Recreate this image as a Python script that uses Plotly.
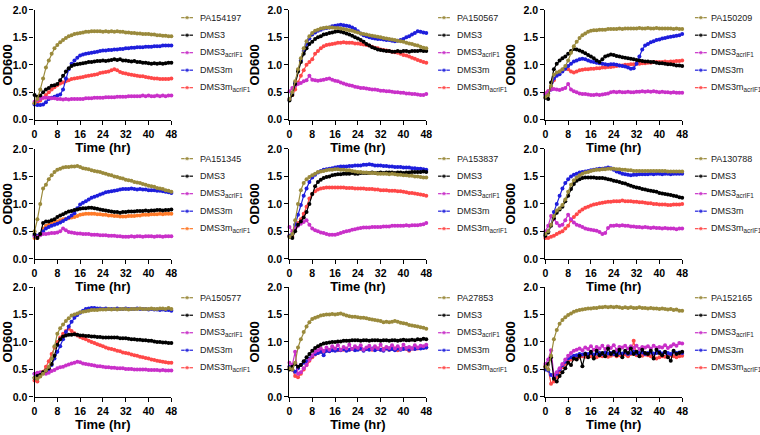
import plotly.graph_objects as go

HOURS = list(range(49))
X_TICKS = [0, 8, 16, 24, 32, 40, 48]
Y_TICKS = [0.0, 0.5, 1.0, 1.5, 2.0]
HOSTS = ["PA154197", "PA150567", "PA150209", "PA151345", "PA153837",
         "PA130788", "PA150577", "PA27853", "PA152165"]
PHAGES = ["DMS3", "DMS3<sub>acrIF1</sub>", "DMS3m", "DMS3m<sub>acrIF1</sub>"]

# ---- Panel 1: PA154197
p1_host = [0.30,0.38,0.55,0.75,0.95,1.08,1.20,1.30,1.36,1.41,1.45,1.49,1.52,1.54,1.56,1.57,1.58,1.59,1.60,1.60,1.61,1.61,1.61,1.61,1.60,1.61,1.60,1.61,1.60,1.61,1.60,1.60,1.59,1.59,1.58,1.58,1.57,1.57,1.56,1.56,1.56,1.55,1.55,1.54,1.54,1.53,1.53,1.52,1.52]
p1_dms3 = [0.45,0.42,0.44,0.50,0.55,0.58,0.62,0.63,0.65,0.72,0.80,0.88,0.94,0.98,1.00,1.01,1.02,1.03,1.04,1.05,1.05,1.06,1.07,1.07,1.08,1.07,1.08,1.09,1.10,1.09,1.10,1.08,1.08,1.07,1.06,1.07,1.05,1.05,1.04,1.04,1.03,1.02,1.03,1.02,1.03,1.02,1.03,1.04,1.04]
p1_acr = [0.33,0.36,0.38,0.40,0.40,0.40,0.39,0.39,0.38,0.38,0.37,0.38,0.37,0.38,0.38,0.38,0.38,0.38,0.39,0.39,0.39,0.40,0.40,0.40,0.40,0.41,0.41,0.41,0.41,0.42,0.42,0.42,0.42,0.43,0.43,0.43,0.43,0.43,0.44,0.43,0.44,0.43,0.43,0.44,0.43,0.44,0.43,0.44,0.44]
p1_dms3m = [0.28,0.27,0.27,0.28,0.32,0.38,0.40,0.42,0.44,0.46,0.55,0.75,0.92,1.02,1.08,1.13,1.17,1.19,1.20,1.21,1.22,1.23,1.24,1.25,1.26,1.26,1.27,1.27,1.28,1.28,1.29,1.29,1.30,1.30,1.31,1.31,1.32,1.32,1.32,1.33,1.33,1.33,1.34,1.34,1.34,1.35,1.35,1.35,1.35]
p1_dms3m_acr = [0.30,0.32,0.35,0.40,0.45,0.50,0.55,0.59,0.63,0.66,0.68,0.70,0.72,0.74,0.75,0.76,0.77,0.78,0.79,0.80,0.81,0.82,0.83,0.85,0.86,0.87,0.88,0.90,0.92,0.90,0.87,0.85,0.84,0.83,0.82,0.81,0.80,0.79,0.79,0.78,0.77,0.76,0.75,0.75,0.74,0.74,0.74,0.74,0.75]

# ---- Panel 2: PA150567
p2_host = [0.38,0.50,0.70,0.92,1.12,1.30,1.43,1.52,1.58,1.62,1.64,1.66,1.67,1.68,1.68,1.68,1.67,1.67,1.66,1.65,1.64,1.63,1.62,1.60,1.59,1.57,1.56,1.55,1.54,1.53,1.52,1.51,1.50,1.49,1.48,1.47,1.46,1.45,1.44,1.43,1.42,1.40,1.39,1.38,1.36,1.35,1.33,1.31,1.30]
p2_dms3 = [0.35,0.45,0.65,0.88,1.05,1.20,1.30,1.38,1.42,1.47,1.50,1.52,1.55,1.56,1.58,1.59,1.60,1.61,1.60,1.59,1.57,1.55,1.53,1.50,1.48,1.45,1.42,1.38,1.35,1.32,1.30,1.28,1.27,1.26,1.25,1.25,1.24,1.24,1.25,1.24,1.25,1.25,1.24,1.25,1.25,1.25,1.26,1.25,1.25]
p2_acr = [0.52,0.58,0.62,0.65,0.67,0.70,0.72,0.80,0.73,0.72,0.71,0.72,0.73,0.74,0.75,0.73,0.71,0.70,0.68,0.66,0.64,0.63,0.62,0.60,0.59,0.58,0.58,0.57,0.56,0.55,0.55,0.54,0.53,0.53,0.52,0.52,0.51,0.50,0.50,0.49,0.49,0.48,0.48,0.47,0.47,0.46,0.45,0.45,0.47]
p2_dms3m = [0.38,0.48,0.68,0.90,1.08,1.25,1.38,1.48,1.55,1.59,1.62,1.64,1.66,1.67,1.68,1.70,1.71,1.72,1.73,1.72,1.71,1.70,1.68,1.65,1.61,1.57,1.54,1.52,1.50,1.49,1.48,1.47,1.47,1.46,1.45,1.45,1.44,1.43,1.44,1.45,1.47,1.50,1.52,1.55,1.58,1.61,1.60,1.59,1.58]
p2_dms3m_acr = [0.38,0.45,0.55,0.68,0.80,0.90,1.00,1.05,1.10,1.20,1.25,1.30,1.34,1.36,1.37,1.38,1.39,1.40,1.40,1.41,1.40,1.40,1.40,1.39,1.39,1.38,1.37,1.36,1.35,1.33,1.31,1.30,1.28,1.27,1.26,1.25,1.24,1.23,1.22,1.20,1.18,1.17,1.15,1.13,1.11,1.09,1.07,1.05,1.04]

# ---- Panel 3: PA150209
p3_host = [0.42,0.45,0.62,0.82,0.86,0.88,0.92,0.98,1.08,1.22,1.34,1.42,1.49,1.54,1.57,1.60,1.62,1.63,1.63,1.64,1.64,1.64,1.65,1.65,1.65,1.65,1.66,1.65,1.66,1.66,1.66,1.66,1.66,1.67,1.66,1.66,1.67,1.66,1.66,1.67,1.66,1.66,1.66,1.66,1.66,1.65,1.66,1.65,1.65]
p3_dms3 = [0.40,0.38,0.68,0.92,1.02,1.08,1.12,1.15,1.20,1.25,1.29,1.28,1.26,1.24,1.21,1.18,1.15,1.12,1.08,1.05,1.10,1.15,1.17,1.19,1.18,1.16,1.15,1.14,1.13,1.12,1.11,1.10,1.09,1.08,1.07,1.06,1.06,1.05,1.05,1.04,1.03,1.03,1.02,1.01,1.01,1.00,0.99,0.99,0.98]
p3_acr = [0.48,0.52,0.55,0.56,0.55,0.54,0.56,0.58,0.65,0.55,0.52,0.50,0.48,0.47,0.47,0.46,0.45,0.45,0.46,0.45,0.46,0.47,0.48,0.50,0.51,0.50,0.51,0.50,0.50,0.51,0.50,0.50,0.51,0.51,0.52,0.51,0.52,0.51,0.52,0.51,0.50,0.51,0.50,0.50,0.49,0.50,0.49,0.49,0.49]
p3_dms3m = [0.45,0.48,0.55,0.75,0.80,0.83,0.88,0.93,0.98,1.02,1.06,1.08,1.10,1.11,1.10,1.08,1.06,1.05,1.04,1.03,1.02,1.01,1.00,1.01,1.01,1.00,0.99,0.98,0.97,0.95,0.93,0.94,1.02,1.15,1.28,1.35,1.38,1.41,1.43,1.45,1.46,1.48,1.49,1.50,1.51,1.52,1.53,1.54,1.56]
p3_dms3m_acr = [0.48,0.52,0.60,0.72,0.82,0.88,0.91,0.93,0.92,0.88,0.86,0.88,0.90,0.91,0.92,0.92,0.93,0.93,0.94,0.94,0.95,0.95,0.96,0.96,0.97,0.98,0.99,0.99,1.00,1.00,1.01,1.01,1.02,1.02,1.03,1.03,1.04,1.04,1.05,1.05,1.05,1.05,1.06,1.05,1.06,1.06,1.07,1.07,1.08]

# ---- Panel 4: PA151345
p4_host = [0.50,0.72,1.00,1.28,1.35,1.45,1.52,1.58,1.62,1.64,1.66,1.67,1.67,1.68,1.68,1.69,1.67,1.65,1.64,1.63,1.61,1.60,1.59,1.58,1.56,1.55,1.53,1.52,1.50,1.49,1.47,1.46,1.44,1.43,1.42,1.40,1.39,1.38,1.36,1.35,1.33,1.32,1.31,1.29,1.28,1.27,1.25,1.24,1.22]
p4_dms3 = [0.45,0.38,0.45,0.65,0.68,0.68,0.70,0.72,0.76,0.79,0.81,0.84,0.86,0.87,0.89,0.90,0.91,0.92,0.92,0.93,0.93,0.92,0.91,0.90,0.89,0.88,0.87,0.86,0.85,0.85,0.84,0.85,0.85,0.86,0.86,0.86,0.87,0.87,0.87,0.88,0.87,0.88,0.88,0.89,0.89,0.88,0.89,0.89,0.90]
p4_acr = [0.42,0.40,0.43,0.45,0.45,0.46,0.47,0.47,0.48,0.50,0.55,0.52,0.49,0.48,0.47,0.46,0.46,0.45,0.45,0.45,0.44,0.44,0.44,0.43,0.43,0.43,0.42,0.42,0.42,0.41,0.41,0.40,0.40,0.40,0.41,0.40,0.41,0.41,0.40,0.41,0.41,0.41,0.40,0.41,0.41,0.40,0.41,0.41,0.41]
p4_dms3m = [0.42,0.42,0.45,0.50,0.55,0.58,0.60,0.62,0.64,0.66,0.69,0.72,0.75,0.79,0.83,0.92,0.99,1.02,1.05,1.08,1.11,1.13,1.15,1.17,1.19,1.21,1.22,1.23,1.24,1.25,1.26,1.27,1.27,1.27,1.28,1.27,1.26,1.27,1.26,1.26,1.25,1.25,1.25,1.24,1.24,1.23,1.22,1.21,1.20]
p4_dms3m_acr = [0.38,0.38,0.45,0.55,0.60,0.62,0.64,0.66,0.68,0.70,0.72,0.73,0.74,0.75,0.76,0.78,0.80,0.81,0.82,0.82,0.82,0.82,0.81,0.81,0.80,0.80,0.79,0.79,0.78,0.78,0.77,0.77,0.77,0.78,0.78,0.78,0.79,0.79,0.80,0.80,0.80,0.81,0.81,0.81,0.82,0.81,0.82,0.82,0.82]

# ---- Panel 5: PA153837
p5_host = [0.40,0.45,0.70,1.00,1.25,1.38,1.45,1.49,1.52,1.55,1.58,1.59,1.60,1.61,1.62,1.62,1.63,1.63,1.62,1.62,1.61,1.61,1.60,1.59,1.58,1.58,1.57,1.57,1.56,1.56,1.56,1.55,1.55,1.55,1.55,1.54,1.55,1.54,1.53,1.53,1.52,1.52,1.51,1.51,1.50,1.50,1.49,1.48,1.48]
p5_dms3 = [0.40,0.38,0.50,0.62,0.68,0.75,0.85,1.00,1.18,1.32,1.40,1.44,1.47,1.49,1.50,1.52,1.53,1.54,1.54,1.55,1.55,1.55,1.56,1.55,1.55,1.56,1.56,1.56,1.56,1.57,1.56,1.56,1.57,1.56,1.57,1.57,1.57,1.56,1.57,1.57,1.56,1.57,1.57,1.58,1.58,1.58,1.58,1.59,1.58]
p5_acr = [0.58,0.50,0.55,0.60,0.64,0.67,0.70,0.62,0.55,0.52,0.50,0.48,0.47,0.45,0.44,0.44,0.44,0.45,0.47,0.49,0.50,0.51,0.53,0.54,0.55,0.56,0.57,0.57,0.57,0.58,0.58,0.58,0.58,0.59,0.59,0.59,0.60,0.60,0.60,0.60,0.60,0.61,0.60,0.61,0.61,0.61,0.62,0.63,0.65]
p5_dms3m = [0.42,0.45,0.62,0.80,0.98,1.15,1.28,1.40,1.48,1.53,1.57,1.60,1.62,1.63,1.64,1.65,1.66,1.67,1.68,1.68,1.68,1.69,1.69,1.70,1.70,1.70,1.71,1.71,1.72,1.71,1.70,1.70,1.70,1.69,1.69,1.68,1.68,1.67,1.67,1.67,1.66,1.66,1.66,1.65,1.65,1.64,1.64,1.63,1.62]
p5_dms3m_acr = [0.42,0.40,0.55,0.65,0.72,0.82,0.95,1.10,1.18,1.23,1.26,1.28,1.29,1.30,1.30,1.30,1.30,1.30,1.30,1.30,1.29,1.29,1.29,1.28,1.28,1.28,1.28,1.27,1.27,1.27,1.26,1.26,1.25,1.25,1.25,1.24,1.24,1.24,1.23,1.23,1.22,1.21,1.20,1.20,1.19,1.18,1.17,1.16,1.15]

# ---- Panel 6: PA130788
p6_host = [0.45,0.50,0.62,0.78,0.88,0.92,0.98,1.08,1.22,1.35,1.43,1.48,1.52,1.55,1.57,1.58,1.60,1.61,1.62,1.62,1.63,1.63,1.64,1.64,1.64,1.63,1.63,1.62,1.62,1.61,1.61,1.60,1.60,1.60,1.60,1.60,1.60,1.60,1.60,1.60,1.60,1.60,1.60,1.59,1.59,1.59,1.59,1.59,1.59]
p6_dms3 = [0.42,0.48,0.60,0.74,0.84,0.90,0.95,1.05,1.15,1.27,1.36,1.42,1.45,1.47,1.48,1.48,1.48,1.48,1.47,1.47,1.47,1.46,1.45,1.44,1.42,1.41,1.40,1.38,1.37,1.35,1.33,1.31,1.30,1.29,1.27,1.26,1.25,1.24,1.23,1.22,1.20,1.19,1.18,1.17,1.16,1.15,1.14,1.12,1.11]
p6_acr = [0.50,0.60,0.78,0.72,0.65,0.60,0.62,0.70,0.80,0.72,0.66,0.62,0.60,0.58,0.55,0.54,0.53,0.52,0.51,0.49,0.45,0.47,0.56,0.60,0.60,0.61,0.60,0.61,0.60,0.60,0.59,0.59,0.58,0.58,0.57,0.58,0.57,0.56,0.57,0.56,0.56,0.55,0.56,0.55,0.55,0.55,0.54,0.55,0.55]
p6_dms3m = [0.45,0.50,0.62,0.85,1.00,1.15,1.28,1.38,1.45,1.50,1.53,1.55,1.57,1.58,1.59,1.60,1.61,1.62,1.63,1.64,1.64,1.65,1.66,1.65,1.62,1.59,1.57,1.55,1.54,1.53,1.52,1.53,1.53,1.54,1.54,1.54,1.54,1.55,1.54,1.55,1.55,1.54,1.55,1.55,1.54,1.55,1.55,1.55,1.55]
p6_dms3m_acr = [0.38,0.38,0.40,0.42,0.45,0.48,0.50,0.55,0.60,0.70,0.76,0.81,0.86,0.90,0.93,0.95,0.97,0.99,1.00,1.01,1.02,1.03,1.04,1.04,1.05,1.05,1.05,1.06,1.05,1.05,1.05,1.04,1.04,1.03,1.03,1.02,1.01,1.01,1.00,1.00,0.99,0.99,0.99,0.98,0.98,0.99,0.99,0.99,1.00]

# ---- Panel 7: PA150577
p7_host = [0.35,0.33,0.37,0.42,0.48,0.55,0.70,0.92,1.15,1.25,1.32,1.38,1.43,1.48,1.50,1.52,1.54,1.55,1.56,1.57,1.58,1.58,1.58,1.59,1.59,1.59,1.60,1.59,1.60,1.59,1.60,1.60,1.60,1.59,1.60,1.60,1.60,1.61,1.60,1.60,1.60,1.61,1.60,1.60,1.61,1.61,1.60,1.62,1.60]
p7_dms3 = [0.35,0.38,0.40,0.45,0.48,0.52,0.60,0.75,0.95,1.05,1.10,1.12,1.13,1.13,1.14,1.13,1.12,1.12,1.11,1.11,1.10,1.10,1.09,1.09,1.08,1.08,1.08,1.08,1.08,1.08,1.07,1.07,1.07,1.06,1.05,1.05,1.04,1.04,1.03,1.03,1.02,1.02,1.01,1.00,1.00,0.99,0.99,0.98,0.98]
p7_acr = [0.42,0.44,0.45,0.44,0.42,0.44,0.47,0.49,0.52,0.54,0.55,0.57,0.59,0.61,0.62,0.64,0.63,0.61,0.60,0.59,0.58,0.57,0.56,0.56,0.55,0.54,0.54,0.53,0.53,0.52,0.52,0.52,0.51,0.51,0.51,0.50,0.50,0.50,0.50,0.50,0.49,0.49,0.49,0.49,0.48,0.49,0.48,0.48,0.48]
p7_dms3m = [0.42,0.42,0.42,0.43,0.45,0.50,0.58,0.70,0.82,0.92,1.05,1.18,1.28,1.37,1.44,1.49,1.53,1.57,1.60,1.61,1.62,1.62,1.61,1.61,1.60,1.61,1.60,1.60,1.60,1.61,1.60,1.60,1.61,1.60,1.60,1.60,1.61,1.60,1.60,1.60,1.59,1.60,1.59,1.59,1.58,1.59,1.58,1.58,1.57]
p7_dms3m_acr = [0.30,0.28,0.38,0.46,0.55,0.65,0.78,0.90,1.00,1.08,1.15,1.20,1.24,1.20,1.16,1.12,1.09,1.07,1.05,1.02,1.00,0.98,0.96,0.94,0.92,0.90,0.88,0.87,0.86,0.84,0.83,0.81,0.80,0.79,0.77,0.76,0.75,0.73,0.72,0.71,0.70,0.68,0.67,0.66,0.65,0.64,0.63,0.62,0.62]

# ---- Panel 8: PA27853
p8_host = [0.52,0.50,0.62,0.90,1.05,1.18,1.28,1.36,1.42,1.44,1.46,1.48,1.49,1.50,1.50,1.51,1.50,1.51,1.52,1.50,1.48,1.47,1.46,1.46,1.45,1.44,1.44,1.43,1.42,1.41,1.40,1.39,1.38,1.36,1.37,1.36,1.37,1.38,1.37,1.35,1.34,1.33,1.31,1.30,1.29,1.28,1.27,1.26,1.24]
p8_dms3 = [0.50,0.55,0.60,0.55,0.58,0.65,0.72,0.78,0.84,0.89,0.92,0.95,0.97,0.98,0.99,1.00,1.00,1.01,1.01,1.02,1.02,1.02,1.03,1.03,1.03,1.02,1.03,1.03,1.02,1.03,1.03,1.03,1.02,1.03,1.03,1.02,1.03,1.03,1.02,1.03,1.04,1.03,1.03,1.04,1.03,1.05,1.04,1.06,1.05]
p8_acr = [0.62,0.58,0.82,0.42,0.45,0.52,0.58,0.68,0.76,0.82,0.85,0.88,0.84,0.90,0.86,0.92,0.88,0.94,0.86,0.91,0.88,0.95,0.87,0.92,0.89,0.94,0.86,0.90,0.93,0.87,0.92,0.88,0.95,0.86,0.91,0.89,0.94,0.88,0.92,0.87,0.95,0.89,0.91,0.88,0.94,0.90,0.93,0.92,0.95]
p8_dms3m = [0.55,0.50,0.46,0.52,0.58,0.62,0.65,0.70,0.75,0.78,0.80,0.82,0.76,0.84,0.83,0.85,0.84,0.86,0.85,0.87,0.84,0.86,0.87,0.85,0.86,0.88,0.84,0.87,0.86,0.88,0.85,0.87,0.86,0.84,0.88,0.86,0.87,0.85,0.88,0.86,0.87,0.88,0.86,0.88,0.87,0.89,0.88,0.89,0.90]
p8_dms3m_acr = [0.55,0.50,0.38,0.36,0.42,0.50,0.58,0.66,0.72,0.77,0.80,0.82,0.83,0.84,0.85,0.85,0.86,0.85,0.86,0.86,0.87,0.86,0.87,0.86,0.87,0.87,0.86,0.87,0.88,0.86,0.87,0.88,0.86,0.87,0.88,0.86,0.87,0.88,0.85,0.87,0.88,0.87,0.84,0.88,0.87,0.88,0.89,0.90,0.90]

# ---- Panel 9: PA152165
p9_host = [0.55,0.50,0.75,1.05,1.22,1.33,1.40,1.45,1.49,1.52,1.55,1.57,1.58,1.59,1.60,1.61,1.61,1.62,1.62,1.63,1.63,1.64,1.63,1.64,1.63,1.64,1.63,1.62,1.63,1.62,1.63,1.62,1.62,1.63,1.62,1.62,1.61,1.62,1.61,1.61,1.60,1.61,1.60,1.59,1.60,1.58,1.59,1.57,1.57]
p9_dms3 = [0.55,0.60,0.72,0.33,0.28,0.38,0.45,0.52,0.62,0.58,0.70,0.68,0.75,0.56,0.78,0.72,0.82,0.70,0.84,0.76,0.80,0.74,0.88,0.78,0.82,0.76,0.86,0.72,0.84,0.80,0.88,0.78,0.82,0.74,0.86,0.80,0.78,0.84,0.70,0.86,0.80,0.76,0.82,0.72,0.66,0.84,0.78,0.80,0.82]
p9_acr = [0.60,0.68,0.85,0.40,0.45,0.52,0.60,0.68,0.75,0.80,0.84,0.86,0.88,0.85,0.90,0.87,0.92,0.86,0.91,0.88,0.93,0.87,0.92,0.89,0.94,0.86,0.91,0.90,0.93,0.88,0.92,0.89,0.93,0.87,0.91,0.90,0.92,0.88,0.93,0.89,0.91,0.90,0.94,0.89,0.92,0.96,0.93,0.98,0.97]
p9_dms3m = [0.50,0.48,0.40,0.35,0.42,0.50,0.58,0.64,0.70,0.72,0.75,0.76,0.78,0.77,0.79,0.78,0.80,0.77,0.79,0.80,0.78,0.81,0.79,0.80,0.78,0.81,0.80,0.79,0.81,0.78,0.80,0.82,0.79,0.80,0.81,0.78,0.80,0.81,0.79,0.80,0.82,0.79,0.81,0.80,0.78,0.82,0.80,0.81,0.80]
p9_dms3m_acr = [0.55,0.50,0.24,0.28,0.36,0.46,0.54,0.60,0.65,0.68,0.70,0.71,0.72,0.74,0.73,0.75,0.74,0.76,0.72,0.75,0.74,0.76,0.73,0.75,0.77,0.74,0.76,0.75,0.77,0.74,0.78,1.02,0.76,0.78,0.75,0.77,0.76,0.74,0.72,0.70,0.72,0.74,0.73,0.75,0.76,0.74,0.72,0.74,0.75]

PANELS = [
    [p1_host, p1_dms3, p1_acr, p1_dms3m, p1_dms3m_acr],
    [p2_host, p2_dms3, p2_acr, p2_dms3m, p2_dms3m_acr],
    [p3_host, p3_dms3, p3_acr, p3_dms3m, p3_dms3m_acr],
    [p4_host, p4_dms3, p4_acr, p4_dms3m, p4_dms3m_acr],
    [p5_host, p5_dms3, p5_acr, p5_dms3m, p5_dms3m_acr],
    [p6_host, p6_dms3, p6_acr, p6_dms3m, p6_dms3m_acr],
    [p7_host, p7_dms3, p7_acr, p7_dms3m, p7_dms3m_acr],
    [p8_host, p8_dms3, p8_acr, p8_dms3m, p8_dms3m_acr],
    [p9_host, p9_dms3, p9_acr, p9_dms3m, p9_dms3m_acr],
]

COLORS = ["#9A8A3C", "#000000", "#C930C9", "#1E1EDC", "#FF4848"]
ORANGE = "#FF7A28"

W, H = 760, 435
COL_PX = [(29, 168), (288, 427), (548, 687)]
ROW_PX = [(4, 117), (147, 260), (289, 402)]
LEG_X = [178, 439, 700]
LEG_TX = [195, 456, 714]
LEG_Y0 = [12, 157, 300]
LEG_DY = 18

FONT = "Liberation Sans, Arial, sans-serif"

fig = go.Figure()
layout = dict(
    width=W, height=H, margin=dict(l=0, r=0, t=0, b=0),
    paper_bgcolor="white", plot_bgcolor="rgba(0,0,0,0)", showlegend=False,
    font=dict(family=FONT, color="#000"),
    annotations=[],
)

for i in range(9):
    r, c = divmod(i, 3)
    n = i + 1
    sfx = "" if n == 1 else str(n)
    x0, x1 = COL_PX[c]
    yt, yb = ROW_PX[r]
    axis_common = dict(
        showgrid=False, zeroline=False, showline=True, linecolor="#000",
        linewidth=1.4, ticks="outside", ticklen=4, tickwidth=1.4, tickcolor="#000",
        tickfont=dict(family=FONT, size=10.5, color="#000", weight="bold"),
        fixedrange=True,
    )
    layout["xaxis" + sfx] = dict(
        axis_common, domain=[x0 / W, x1 / W], anchor="y" + sfx, range=[0, 48],
        tickvals=X_TICKS,
        title=dict(text="Time (hr)", font=dict(family=FONT, size=13, weight="bold"), standoff=3),
    )
    layout["yaxis" + sfx] = dict(
        axis_common, domain=[(H - yb) / H, (H - yt) / H], anchor="x" + sfx, range=[0, 2],
        tickvals=Y_TICKS, tickformat=".1f",
        title=dict(text="OD600", font=dict(family=FONT, size=13, weight="bold"), standoff=4),
    )
    series = PANELS[i]
    cols = list(COLORS)
    if n == 4:
        cols[4] = ORANGE
    # later series drawn first so the host strain sits on top
    for k in reversed(range(5)):
        vals = series[k]
        fig.add_trace(go.Scatter(
            x=HOURS[:len(vals)], y=vals, xaxis="x" + sfx, yaxis="y" + sfx,
            mode="lines+markers", cliponaxis=False,
            line=dict(color=cols[k], width=1.2),
            marker=dict(color=cols[k], size=4),
            hoverinfo="skip",
        ))
    # legend (drawn in a page-sized overlay axis)
    names = [HOSTS[i]] + PHAGES
    for k in range(5):
        lx = LEG_X[c]
        ly = LEG_Y0[r] + k * LEG_DY
        fig.add_trace(go.Scatter(
            x=[lx, lx + 6, lx + 12], y=[ly, ly, ly], xaxis="x10", yaxis="y10",
            mode="lines+markers", cliponaxis=False,
            line=dict(color=cols[k], width=1.2),
            marker=dict(color=cols[k], size=[0, 4.5, 0]),
            hoverinfo="skip",
        ))
        layout["annotations"].append(dict(
            text=names[k], x=LEG_TX[c], y=ly, xref="x10", yref="y10",
            xanchor="left", yanchor="middle", showarrow=False,
            font=dict(family=FONT, size=9, color="#222"),
        ))

layout["xaxis10"] = dict(domain=[0, 1], range=[0, W], visible=False, fixedrange=True, anchor="y10")
layout["yaxis10"] = dict(domain=[0, 1], range=[H, 0], visible=False, fixedrange=True, anchor="x10")

fig.update_layout(**layout)
fig.write_html(
    "out.html",
    config={"displayModeBar": False},
    post_script="document.body.style.margin='0';document.body.style.overflow='hidden';",
)
